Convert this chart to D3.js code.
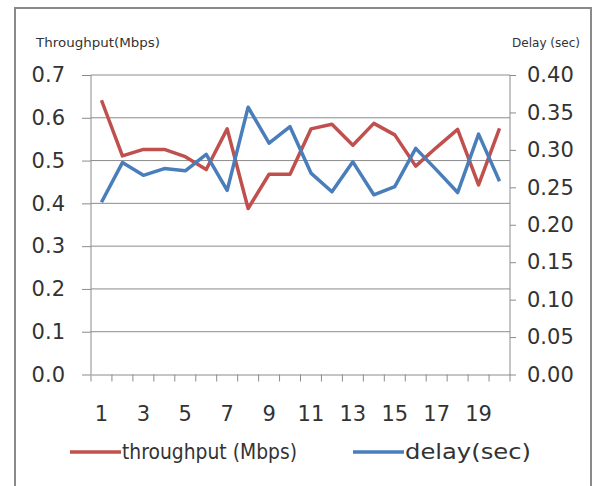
<!DOCTYPE html>
<html>
<head>
<meta charset="utf-8">
<script src="https://cdn.jsdelivr.net/npm/d3@7"></script>
<style>
  body { margin: 0; background: #fff; }
  text { font-family: "DejaVu Sans", sans-serif; fill: #333; }
</style>
</head>
<body>
<div id="chart"></div>
<script>
// data
const runs = d3.range(1, 21)
const throughput = [0.641, 0.511, 0.526, 0.526, 0.509, 0.479, 0.574, 0.388, 0.468, 0.468,
                    0.574, 0.585, 0.536, 0.587, 0.560, 0.487, 0.531, 0.573, 0.443, 0.575]
const delay = [0.230, 0.283, 0.266, 0.275, 0.272, 0.294, 0.246, 0.357, 0.309, 0.331,
               0.269, 0.244, 0.284, 0.240, 0.251, 0.302, 0.273, 0.243, 0.321, 0.258]
const leftTicks = [0, 0.1, 0.2, 0.3, 0.4, 0.5, 0.6, 0.7]
const rightTicks = [0, 0.05, 0.1, 0.15, 0.2, 0.25, 0.3, 0.35, 0.4]
const xLabels = [1, 3, 5, 7, 9, 11, 13, 15, 17, 19]

const W = 601, H = 486
const plot = { left: 91, right: 510, top: 75, bottom: 374.5 }

const svg = d3.select("#chart").append("svg")
    .attr("width", W)
    .attr("height", H)

// outer frame
svg.append("rect")
    .attr("x", 15).attr("y", 8)
    .attr("width", 576).attr("height", 500)
    .attr("fill", "none")
    .attr("stroke", "#8a8a8a")
    .attr("stroke-width", 2)

let x = d3.scaleBand()
    .domain(runs)
    .range([plot.left, plot.right])
let cx = (d) => x(d) + x.bandwidth() / 2

let yL = d3.scaleLinear().domain([0, 0.7]).range([plot.bottom, plot.top])
let yR = d3.scaleLinear().domain([0, 0.4]).range([plot.bottom, plot.top])

// gridlines
svg.append("g")
    .selectAll("line")
    .data(leftTicks.slice(1))
    .enter()
    .append("line")
    .attr("x1", plot.left).attr("x2", plot.right)
    .attr("y1", (d) => yL(d)).attr("y2", (d) => yL(d))
    .attr("stroke", "#8c8c8c")
    .attr("stroke-width", 1)

// left axis
let gL = svg.append("g")
    .attr("transform", "translate(" + plot.left + ",0)")
    .call(d3.axisLeft(yL).tickValues(leftTicks).tickFormat(d3.format(".1f")).tickSize(9).tickPadding(17))
gL.selectAll("text").style("font-size", "21px")

// right axis
let gR = svg.append("g")
    .attr("transform", "translate(" + plot.right + ",0)")
    .call(d3.axisRight(yR).tickValues(rightTicks).tickFormat(d3.format(".2f")).tickSize(6).tickPadding(11))
gR.selectAll("text").style("font-size", "21px")

// bottom axis: ticks between categories
let gB = svg.append("g")
    .attr("transform", "translate(0," + plot.bottom + ")")
    .call(d3.axisBottom(x).tickSize(0).tickFormat(""))
gB.append("g")
    .selectAll("line")
    .data(runs)
    .enter()
    .append("line")
    .attr("x1", (d) => x(d) + x.bandwidth()).attr("x2", (d) => x(d) + x.bandwidth())
    .attr("y1", 0).attr("y2", 7)
    .attr("stroke", "#8c8c8c")
gB.append("line")
    .attr("x1", plot.left).attr("x2", plot.left)
    .attr("y1", 0).attr("y2", 7)
    .attr("stroke", "#8c8c8c")
gB.append("g")
    .selectAll("text")
    .data(xLabels)
    .enter()
    .append("text")
    .attr("x", (d) => cx(d))
    .attr("y", 46)
    .attr("text-anchor", "middle")
    .style("font-size", "21px")
    .text((d) => d)

svg.selectAll(".domain").attr("stroke", "#8c8c8c")
svg.selectAll(".tick line").attr("stroke", "#8c8c8c")
gL.select(".domain").attr("d", "M0," + plot.bottom + "V" + plot.top)
gR.select(".domain").attr("d", "M0," + plot.bottom + "V" + plot.top)

// axis titles
svg.append("text")
    .attr("x", 36).attr("y", 47)
    .attr("textLength", 124)
    .attr("lengthAdjust", "spacingAndGlyphs")
    .style("font-size", "12px")
    .text("Throughput(Mbps)")
svg.append("text")
    .attr("x", 512).attr("y", 47)
    .attr("textLength", 68)
    .attr("lengthAdjust", "spacingAndGlyphs")
    .style("font-size", "12px")
    .text("Delay (sec)")

// lines
let lineT = d3.line().x((d, i) => cx(runs[i])).y((d) => yL(d))
let lineD = d3.line().x((d, i) => cx(runs[i])).y((d) => yR(d))

svg.append("path")
    .datum(throughput)
    .attr("d", lineT)
    .attr("fill", "none")
    .attr("stroke", "#c0504d")
    .attr("stroke-width", 3.5)
    .attr("stroke-linejoin", "round")

svg.append("path")
    .datum(delay)
    .attr("d", lineD)
    .attr("fill", "none")
    .attr("stroke", "#4a7ebb")
    .attr("stroke-width", 3.5)
    .attr("stroke-linejoin", "round")

// legend
const legend = [
    { name: "throughput (Mbps)", color: "#c0504d", x: 70, tl: 175 },
    { name: "delay(sec)", color: "#4a7ebb", x: 353, tl: 126 }
]
let lg = svg.append("g")
lg.selectAll("line")
    .data(legend)
    .enter()
    .append("line")
    .attr("x1", (d) => d.x).attr("x2", (d) => d.x + 51)
    .attr("y1", 452).attr("y2", 452)
    .attr("stroke", (d) => d.color)
    .attr("stroke-width", 3.5)
lg.selectAll("text")
    .data(legend)
    .enter()
    .append("text")
    .attr("x", (d) => d.x + 52)
    .attr("y", 459)
    .attr("textLength", (d) => d.tl)
    .attr("lengthAdjust", "spacingAndGlyphs")
    .style("font-size", "21px")
    .text((d) => d.name)
</script>
</body>
</html>
